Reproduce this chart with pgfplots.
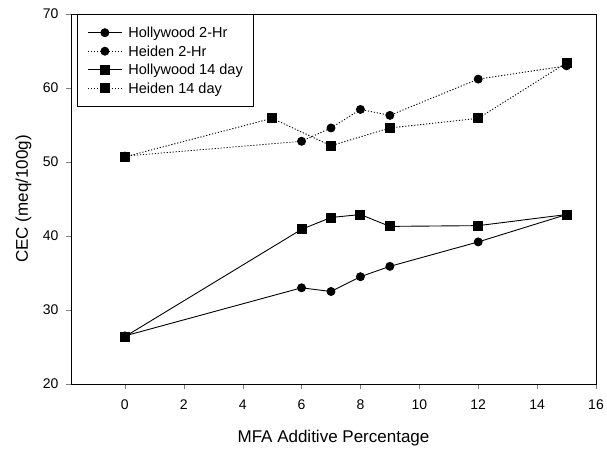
\documentclass[border=0pt]{standalone}
\usepackage{pgfplots}
\pgfplotsset{compat=1.18}
\usepackage{fontspec}
\setmainfont{Liberation Sans}
\begin{document}
\begin{tikzpicture}
\begin{axis}[
  scale only axis, width=525pt, height=370pt,
  xmin=-1.83, xmax=16, ymin=20, ymax=70,
  xtick={0,2,...,16}, ytick={20,30,...,70},
  tick align=outside, tick pos=left, major tick length=5pt,
  line width=0.9pt,
  /pgf/number format/assume math mode=true,
  tick label style={font=\fontsize{14}{16}\selectfont},
  xticklabel style={yshift=-7pt},
  yticklabel style={xshift=-3.7pt},
  xlabel={MFA Additive Percentage}, ylabel={CEC (meq/100g)},
  every axis x label/.style={at={(axis description cs:0.5,0)}, anchor=base, yshift=-58pt, font=\fontsize{17}{20}\selectfont},
  every axis y label/.style={at={(axis description cs:0,0.5)}, xshift=-43pt, rotate=90, anchor=base, font=\fontsize{17}{20}\selectfont},
  legend style={at={(axis description cs:0.0114,1)}, anchor=north west, draw=black, line width=0.9pt,
    font=\fontsize{14.5}{16}\selectfont, inner xsep=10pt, inner ysep=12pt, row sep=6pt,
    nodes={inner sep=1pt, text depth=0pt},
    /tikz/every odd column/.append style={column sep=5pt}},
  legend cell align=left,
  legend image code/.code={\draw[#1, mark repeat=2, mark phase=2] plot coordinates {(0pt,0pt) (17pt,0pt) (34pt,0pt)};},
  dotline/.style={dash pattern=on 1.2pt off 1.8pt},
]
\addplot[black, line width=0.9pt, mark=*, mark size=4pt, mark options={solid, fill=black}]
  coordinates {(0,26.5) (6,33.0) (7,32.5) (8,34.5) (9,35.9) (12,39.2) (15,42.9)};
\addlegendentry{Hollywood 2-Hr}
\addplot[black, line width=0.9pt, dotline, mark=*, mark size=4pt, mark options={solid, fill=black}]
  coordinates {(0,50.8) (6,52.8) (7,54.6) (8,57.1) (9,56.3) (12,61.2) (15,63.0)};
\addlegendentry{Heiden 2-Hr}
\addplot[black, line width=0.9pt, mark=square*, mark size=4.5pt, mark options={solid, fill=black}]
  coordinates {(0,26.4) (6,40.9) (7,42.5) (8,42.9) (9,41.3) (12,41.4) (15,42.9)};
\addlegendentry{Hollywood 14 day}
\addplot[black, line width=0.9pt, dotline, mark=square*, mark size=4.5pt, mark options={solid, fill=black}]
  coordinates {(0,50.7) (5,55.9) (7,52.2) (9,54.6) (12,55.9) (15,63.4)};
\addlegendentry{Heiden 14 day}
\coordinate (SW) at (rel axis cs:0,0);
\coordinate (NE) at (rel axis cs:1,1);
\end{axis}
\pgfresetboundingbox
\path[use as bounding box] ([shift={(-71pt,-68pt)}]SW) rectangle ([shift={(11pt,14pt)}]NE);
\end{tikzpicture}
\end{document}
